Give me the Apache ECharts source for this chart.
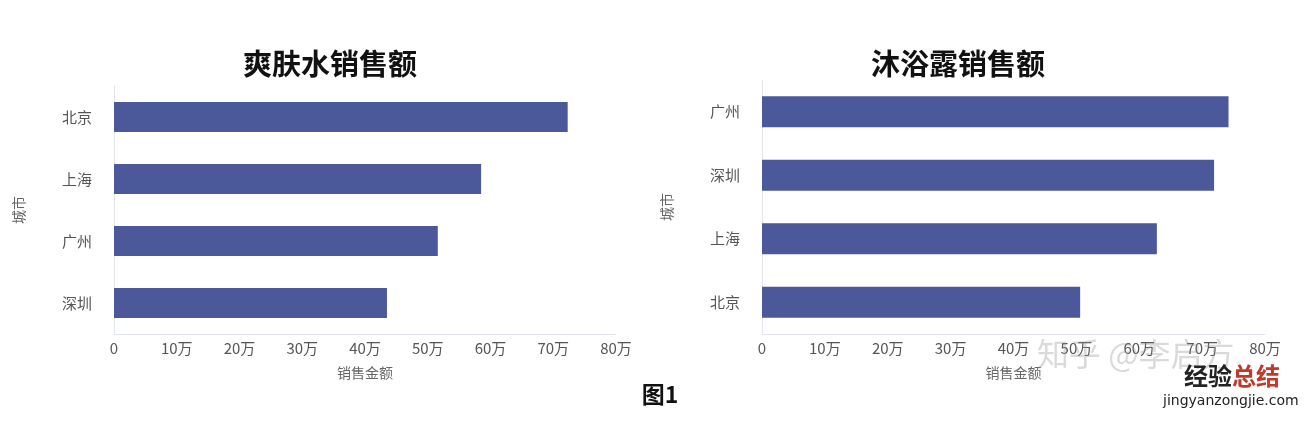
<!DOCTYPE html>
<html>
<head>
<meta charset="utf-8">
<script src="https://cdn.jsdelivr.net/npm/echarts@6/dist/echarts.min.js"></script>
<style>
html,body{margin:0;padding:0;background:#fff;}
#main{width:1314px;height:424px;}
</style>
</head>
<body>
<div id="main"></div>
<script>
// Data (values in 万)
const leftTitle = '爽肤水销售额';
const leftCities = ['北京', '上海', '广州', '深圳'];
const leftValues = [72.3, 58.5, 51.6, 43.5];

const rightTitle = '沐浴露销售额';
const rightCities = ['广州', '深圳', '上海', '北京'];
const rightValues = [74.2, 71.9, 62.8, 50.6];

const xTickMax = 80;
const xTickInterval = 10;
const xAxisName = '销售金额';
const yAxisName = '城市';
const caption = '图1';

const FONT = '"Noto Sans CJK SC", "Noto Sans", sans-serif';
const barColor = '#4b5899';

function xAxisCfg(gridIndex) {
  return {
    type: 'value', gridIndex: gridIndex, min: 0, max: xTickMax, interval: xTickInterval,
    name: xAxisName, nameLocation: 'middle', nameGap: 32,
    nameTextStyle: { color: '#666', fontSize: 14, fontFamily: FONT },
    axisLine: { show: true, lineStyle: { color: '#e3e5ec', width: 1 } },
    axisTick: { show: false },
    splitLine: { show: false },
    axisLabel: {
      color: '#555', fontSize: 15, fontFamily: FONT, margin: 7,
      formatter: v => v === 0 ? '0' : v + '万'
    }
  };
}
function yAxisCfg(gridIndex, cats) {
  return {
    type: 'category', gridIndex: gridIndex, data: cats, inverse: true,
    name: yAxisName, nameLocation: 'middle', nameGap: 88,
    nameTextStyle: { color: '#666', fontSize: 14, fontFamily: FONT },
    axisLine: { show: true, lineStyle: { color: '#e3e5ec', width: 1 } },
    axisTick: { show: false },
    axisLabel: { color: '#555', fontSize: 15, fontFamily: FONT, margin: 22 }
  };
}

const chart = echarts.init(document.getElementById('main'), null, { renderer: 'canvas' });
chart.setOption({
  backgroundColor: '#fff',
  animation: false,
  title: [
    { text: leftTitle, left: 325, top: 44, textAlign: 'center',
      textStyle: { fontSize: 29, fontWeight: 'bold', color: '#111', fontFamily: FONT } },
    { text: rightTitle, left: 953, top: 44, textAlign: 'center',
      textStyle: { fontSize: 29, fontWeight: 'bold', color: '#111', fontFamily: FONT } },
    { text: caption, left: 655, top: 378, textAlign: 'center',
      textStyle: { fontSize: 23, fontWeight: 'bold', color: '#111', fontFamily: FONT } }
  ],
  grid: [
    { left: 114, right: 698, top: 86, bottom: 90 },
    { left: 762, right: 49, top: 80, bottom: 90 }
  ],
  xAxis: [xAxisCfg(0), xAxisCfg(1)],
  yAxis: [yAxisCfg(0, leftCities), yAxisCfg(1, rightCities)],
  series: [
    { type: 'bar', xAxisIndex: 0, yAxisIndex: 0, data: leftValues, barWidth: 30,
      itemStyle: { color: barColor } },
    { type: 'bar', xAxisIndex: 1, yAxisIndex: 1, data: rightValues, barWidth: 31,
      itemStyle: { color: barColor } }
  ],
  graphic: [
    { type: 'text', left: 1037, top: 338, z: 10,
      style: { text: '知乎 @李启方', fontSize: 32, fill: 'rgba(150,150,150,0.35)', fontFamily: FONT } },
    { type: 'text', left: 1184, top: 364, z: 11,
      style: { text: '{a|经验}{b|总结}', fontFamily: FONT,
        rich: { a: { fontSize: 24, fontWeight: 'bold', fill: '#222', fontFamily: FONT },
                b: { fontSize: 24, fontWeight: 'bold', fill: '#c0392b', fontFamily: FONT } } } },
    { type: 'text', left: 1163, top: 394, z: 11,
      style: { text: 'jingyanzongjie.com', fontSize: 14, fill: '#222', fontFamily: '"DejaVu Sans", sans-serif' } }
  ]
});
</script>
</body>
</html>
